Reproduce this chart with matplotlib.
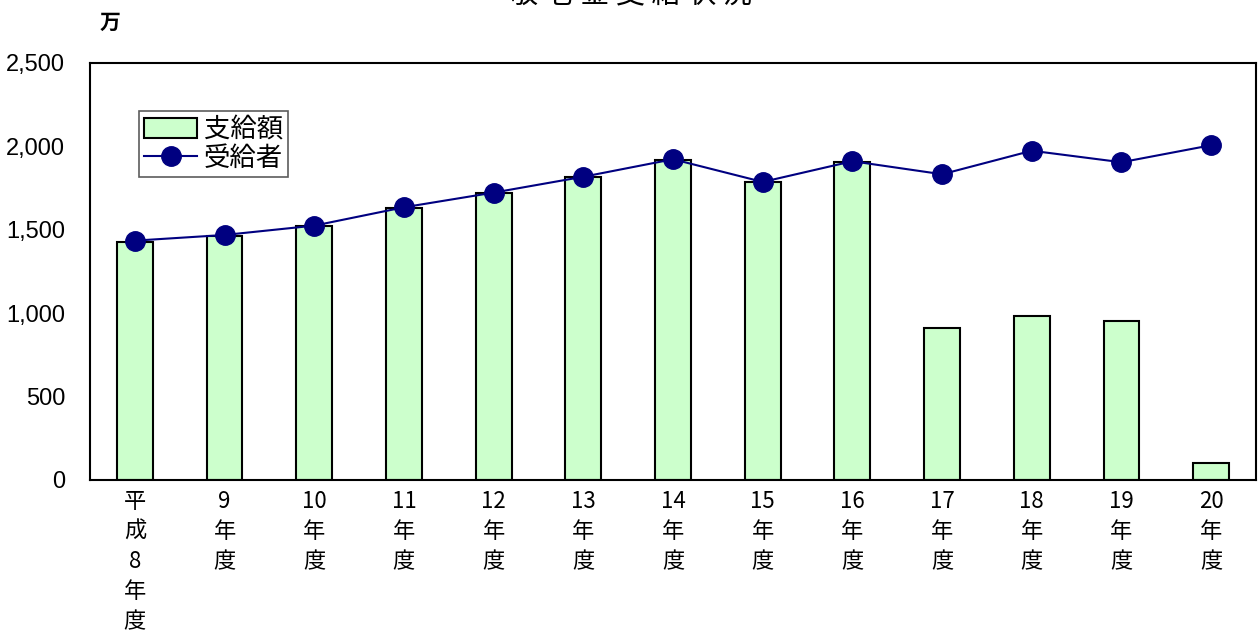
import numpy as np
import matplotlib.pyplot as plt

plt.rcParams['font.family'] = ['Noto Sans CJK JP', 'DejaVu Sans']

years = ["平\n成\n8\n年\n度", "9\n年\n度", "10\n年\n度", "11\n年\n度", "12\n年\n度",
         "13\n年\n度", "14\n年\n度", "15\n年\n度", "16\n年\n度", "17\n年\n度",
         "18\n年\n度", "19\n年\n度", "20\n年\n度"]
# 支給額 (bars) and 受給者 (line), units of 万
amount = [1428, 1463, 1520, 1632, 1720, 1814, 1920, 1784, 1908, 913, 985, 952, 100]
recipients = [1435, 1469, 1525, 1635, 1723, 1818, 1923, 1787, 1911, 1833, 1974, 1905, 2007]

fig = plt.figure(figsize=(12.59, 6.32), dpi=100)
ax = fig.add_axes([90/1259, 152/632, 1166/1259, 417/632])

x = np.arange(len(years))
bars = ax.bar(x, amount, width=0.4, color='#CCFFCC', edgecolor='black', linewidth=1.5,
              label='支給額', zorder=2)
line, = ax.plot(x, recipients, color='#000080', linewidth=1.5, marker='o', markersize=14,
                label='受給者', zorder=3)

ax.set_xlim(-0.5, len(years) - 0.5)
ax.set_ylim(0, 2500)
ax.set_yticks(np.arange(0, 2501, 500))
ax.set_yticklabels([f'{v:,}' for v in range(0, 2501, 500)],
                   fontfamily='Liberation Sans', fontsize=17)
ax.set_xticks(x)
ax.set_xticklabels(years, fontsize=16, linespacing=1.4, va='top')
ax.tick_params(axis='both', length=0)
ax.tick_params(axis='y', pad=18)
ax.tick_params(axis='x', pad=7)
for s in ax.spines.values():
    s.set_linewidth(1.5)

leg = ax.legend([bars, line], ['支給額', '受給者'], loc='upper left',
                bbox_to_anchor=(0.042, 0.885), fontsize=19,
                frameon=True, fancybox=False, edgecolor='#333333',
                handlelength=2.0, handleheight=0.8, handletextpad=0.25, borderpad=0.2,
                labelspacing=0.05, borderaxespad=0)
leg.get_frame().set_linewidth(1.2)

fig.text(100/1259, 1 - 22/632, '万', fontsize=15, fontweight='bold', ha='left', va='center')
fig.text(630/1259, 1 + 5/632, '敬 老 金 支 給 状 況', fontsize=21, ha='center', va='center')

fig.savefig('out.png', dpi=100)
